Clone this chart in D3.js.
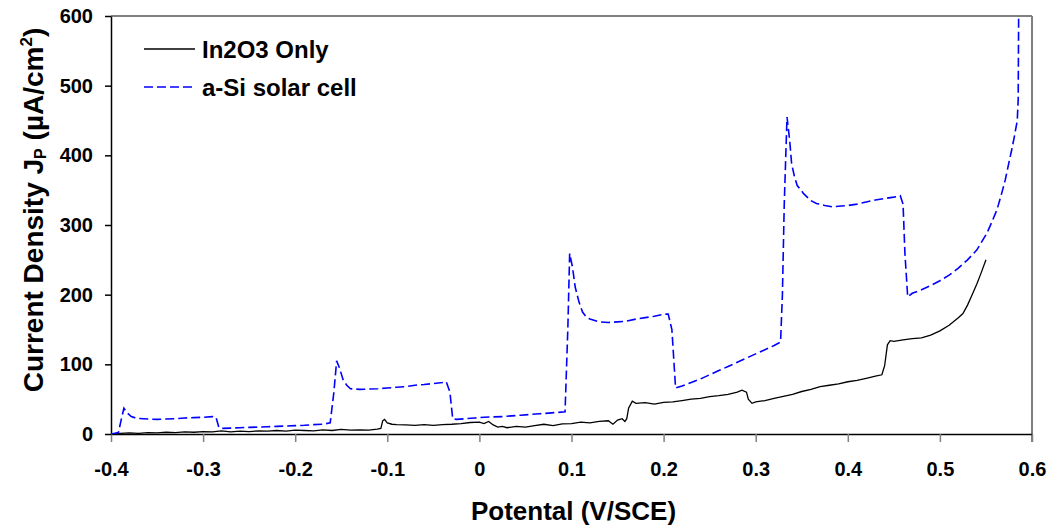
<!DOCTYPE html>
<html>
<head>
<meta charset="utf-8">
<script src="https://cdn.jsdelivr.net/npm/d3@7"></script>
<style>
  html, body { margin: 0; padding: 0; background: #fff; }
  svg { display: block; }
  text { font-family: Arial, "Liberation Sans", sans-serif; font-weight: bold; fill: #000; }
</style>
</head>
<body>
<svg id="chart" width="1048" height="525"></svg>
<script>
// Potential sweep (V vs SCE) and anodic current density (µA/cm²)
const in2o3Potential = [
  -0.400, -0.390, -0.380, -0.370, -0.360, -0.350, -0.340, -0.330, -0.320, -0.310,
  -0.300, -0.290, -0.280, -0.270, -0.260, -0.250, -0.240, -0.230, -0.220, -0.210,
  -0.200, -0.190, -0.180, -0.170, -0.160, -0.150, -0.140, -0.130, -0.120, -0.111,
  -0.107, -0.105, -0.103, -0.100, -0.095, -0.090, -0.080, -0.070, -0.060, -0.050,
  -0.040, -0.030, -0.020, -0.010, 0.000, 0.005, 0.010, 0.015, 0.020, 0.025,
  0.030, 0.040, 0.050, 0.060, 0.070, 0.080, 0.090, 0.100, 0.110, 0.120,
  0.130, 0.140, 0.145, 0.150, 0.155, 0.158, 0.160, 0.162, 0.166, 0.170,
  0.180, 0.190, 0.200, 0.210, 0.220, 0.230, 0.240, 0.250, 0.260, 0.270,
  0.280, 0.285, 0.290, 0.292, 0.296, 0.300, 0.310, 0.320, 0.330, 0.340,
  0.350, 0.360, 0.370, 0.380, 0.390, 0.400, 0.410, 0.420, 0.430, 0.437,
  0.440, 0.443, 0.446, 0.450, 0.460, 0.470, 0.480, 0.490, 0.500, 0.510,
  0.520, 0.525, 0.530, 0.535, 0.540, 0.545, 0.550
];
const in2o3Current = [
  0, 1, 1.5, 1, 2, 1.5, 2.5, 2, 3, 2.5,
  3.5, 3, 4.5, 3, 4, 3.5, 4.5, 4, 5, 4,
  5.5, 5, 4.5, 6, 5, 6.5, 5.5, 6, 5.5, 7,
  8, 19, 21, 16, 14, 13.5, 13, 12.5, 13.5, 12.5,
  13.5, 14, 15, 16.5, 17, 15, 18, 13, 10, 11,
  9, 11, 10, 12, 14, 12, 14.5, 15, 17, 16,
  18, 19, 14, 20, 22, 18, 22, 37, 47, 44,
  45, 43, 45.5, 46, 48, 50, 51, 53.5, 55, 57,
  60, 63, 60, 50, 44, 46, 48, 51, 54, 57,
  61, 64, 68, 70, 72, 75, 77, 80, 83, 85,
  98, 128, 134, 133, 135, 137, 138, 142, 148, 156,
  167, 173, 185, 200, 215, 232, 250
];

const cellPotential = [
  -0.400, -0.392, -0.389, -0.386, -0.383, -0.378, -0.372, -0.360, -0.350, -0.340,
  -0.330, -0.320, -0.310, -0.300, -0.290, -0.286, -0.283, -0.281, -0.270, -0.260,
  -0.250, -0.240, -0.230, -0.220, -0.210, -0.200, -0.190, -0.180, -0.170, -0.162,
  -0.158, -0.155, -0.152, -0.148, -0.144, -0.140, -0.130, -0.120, -0.110, -0.100,
  -0.090, -0.080, -0.070, -0.060, -0.050, -0.040, -0.036, -0.032, -0.029, -0.025,
  -0.015, -0.005, 0.005, 0.015, 0.025, 0.035, 0.045, 0.055, 0.065, 0.075,
  0.085, 0.093, 0.096, 0.098, 0.101, 0.104, 0.108, 0.112, 0.116, 0.120,
  0.130, 0.140, 0.150, 0.160, 0.170, 0.180, 0.190, 0.200, 0.205, 0.209,
  0.213, 0.220, 0.230, 0.240, 0.250, 0.260, 0.270, 0.280, 0.290, 0.300,
  0.310, 0.320, 0.327, 0.329, 0.331, 0.334, 0.337, 0.339, 0.342, 0.345,
  0.352, 0.360, 0.366, 0.375, 0.384, 0.390, 0.400, 0.410, 0.420, 0.430,
  0.440, 0.450, 0.457, 0.460, 0.462, 0.465, 0.470, 0.480, 0.490, 0.500,
  0.510, 0.520, 0.530, 0.540, 0.545, 0.551, 0.556, 0.562, 0.567, 0.571,
  0.575, 0.578, 0.581, 0.584, 0.585, 0.5855
];
const cellCurrent = [
  0, 2, 20, 37, 31, 25, 22.5, 21.5, 21, 21.5,
  22, 23, 23.5, 24, 25, 24, 10, 8, 8.5, 9,
  9.5, 10, 10.5, 11, 11.5, 12, 12.5, 13.5, 14, 16,
  60, 105, 95, 78, 70, 65, 64, 64.5, 65, 66,
  67, 68, 70, 71, 72.5, 74, 75, 60, 22, 21,
  22, 23, 24, 24.5, 25, 26, 27, 28, 29, 30,
  31, 32, 150, 259, 240, 211, 190, 175, 168, 165,
  161, 160, 161, 162, 165, 167, 169, 172, 172, 150,
  66, 69, 74, 79, 85, 91, 97, 103, 109, 115,
  121, 127, 132, 200, 330, 455, 420, 388, 370, 357,
  345, 335, 331, 328, 326, 327, 328, 330, 333, 336,
  338, 340, 342, 330, 260, 197, 202, 207, 213, 220,
  228, 238, 250, 264, 275, 288, 303, 322, 345, 365,
  390, 408, 428, 450, 480, 600
];

const seriesNames = ["In2O3 Only", "a-Si solar cell"];
const xTicks = [-0.4, -0.3, -0.2, -0.1, 0, 0.1, 0.2, 0.3, 0.4, 0.5, 0.6];
const yTicks = [0, 100, 200, 300, 400, 500, 600];
const xTitle = "Potental (V/SCE)";

const svg = d3.select("#chart");
const plotLeft = 111, plotRight = 1032, plotTop = 16, plotBottom = 434;

const x = d3.scaleLinear().domain([-0.4, 0.6]).range([plotLeft, plotRight]);
const y = d3.scaleLinear().domain([0, 600]).range([plotBottom, plotTop]);

// frame: top and right edges in grey
svg.append("line").attr("x1", plotLeft).attr("x2", plotRight).attr("y1", plotTop).attr("y2", plotTop)
  .attr("stroke", "#808080").attr("stroke-width", 2);
svg.append("line").attr("x1", plotRight).attr("x2", plotRight).attr("y1", plotTop).attr("y2", plotBottom + 8)
  .attr("stroke", "#808080").attr("stroke-width", 2);

const fmt = d => String(+(+d).toFixed(1));
const tickFont = sel => sel.style("font-size", "20px")
  .style("font-family", "Arial, 'Liberation Sans', sans-serif").style("font-weight", "bold");

// x axis
const gx = svg.append("g").attr("transform", `translate(0,${plotBottom})`)
  .call(d3.axisBottom(x).tickValues(xTicks).tickSize(8).tickSizeOuter(0).tickPadding(20).tickFormat(fmt));
gx.select(".domain").attr("stroke", "#000").attr("stroke-width", 1.5);
gx.selectAll(".tick line").attr("stroke", "#808080").attr("stroke-width", 1.5);
gx.selectAll(".tick text").call(tickFont);

// y axis
const gy = svg.append("g").attr("transform", `translate(${plotLeft},0)`)
  .call(d3.axisLeft(y).tickValues(yTicks).tickSize(6).tickSizeOuter(0).tickPadding(12).tickFormat(d3.format("d")));
gy.select(".domain").attr("stroke", "#000").attr("stroke-width", 1.5);
gy.selectAll(".tick line").attr("stroke", "#000").attr("stroke-width", 1.5);
gy.selectAll(".tick text").call(tickFont);

// axis titles
svg.append("text").attr("x", (plotLeft + plotRight) / 2 + 2).attr("y", 520)
  .attr("text-anchor", "middle").style("font-size", "26px").text(xTitle);

const yt = svg.append("text")
  .attr("transform", `translate(43,${(plotTop + plotBottom) / 2 - 15}) rotate(-90)`)
  .attr("text-anchor", "middle").style("font-size", "28px");
yt.append("tspan").text("Current Density J");
yt.append("tspan").attr("dy", 3).style("font-size", "16px").text("P");
yt.append("tspan").attr("dy", -3).text(" (\u00b5A/cm");
yt.append("tspan").attr("dy", -11).style("font-size", "17px").text("2");
yt.append("tspan").attr("dy", 11).text(")");

// curves
svg.append("clipPath").attr("id", "plot-clip").append("rect")
  .attr("x", plotLeft).attr("y", plotTop - 1).attr("width", plotRight - plotLeft).attr("height", plotBottom - plotTop + 1);

const line = d3.line().x(d => x(d[0])).y(d => y(d[1]));
const in2o3 = d3.zip(in2o3Potential, in2o3Current);
const cell = d3.zip(cellPotential, cellCurrent);

const plot = svg.append("g").attr("clip-path", "url(#plot-clip)");
plot.append("path").datum(in2o3).attr("d", line)
  .attr("fill", "none").attr("stroke", "#000").attr("stroke-width", 1.3);
plot.append("path").datum(cell).attr("d", line)
  .attr("fill", "none").attr("stroke", "#0000ff").attr("stroke-width", 1.6)
  .attr("stroke-dasharray", "9,4");

// legend
const legend = svg.append("g");
const legendRows = [
  { name: seriesNames[0], color: "#000", dash: null, y: 49 },
  { name: seriesNames[1], color: "#0000ff", dash: "9,4", y: 87 }
];
legendRows.forEach(r => {
  legend.append("line").attr("x1", 144).attr("x2", 195).attr("y1", r.y).attr("y2", r.y)
    .attr("stroke", r.color).attr("stroke-width", r.dash ? 1.6 : 1.3)
    .attr("stroke-dasharray", r.dash);
  legend.append("text").attr("x", 202).attr("y", r.y + 9).style("font-size", "24px").text(r.name);
});
</script>
</body>
</html>
